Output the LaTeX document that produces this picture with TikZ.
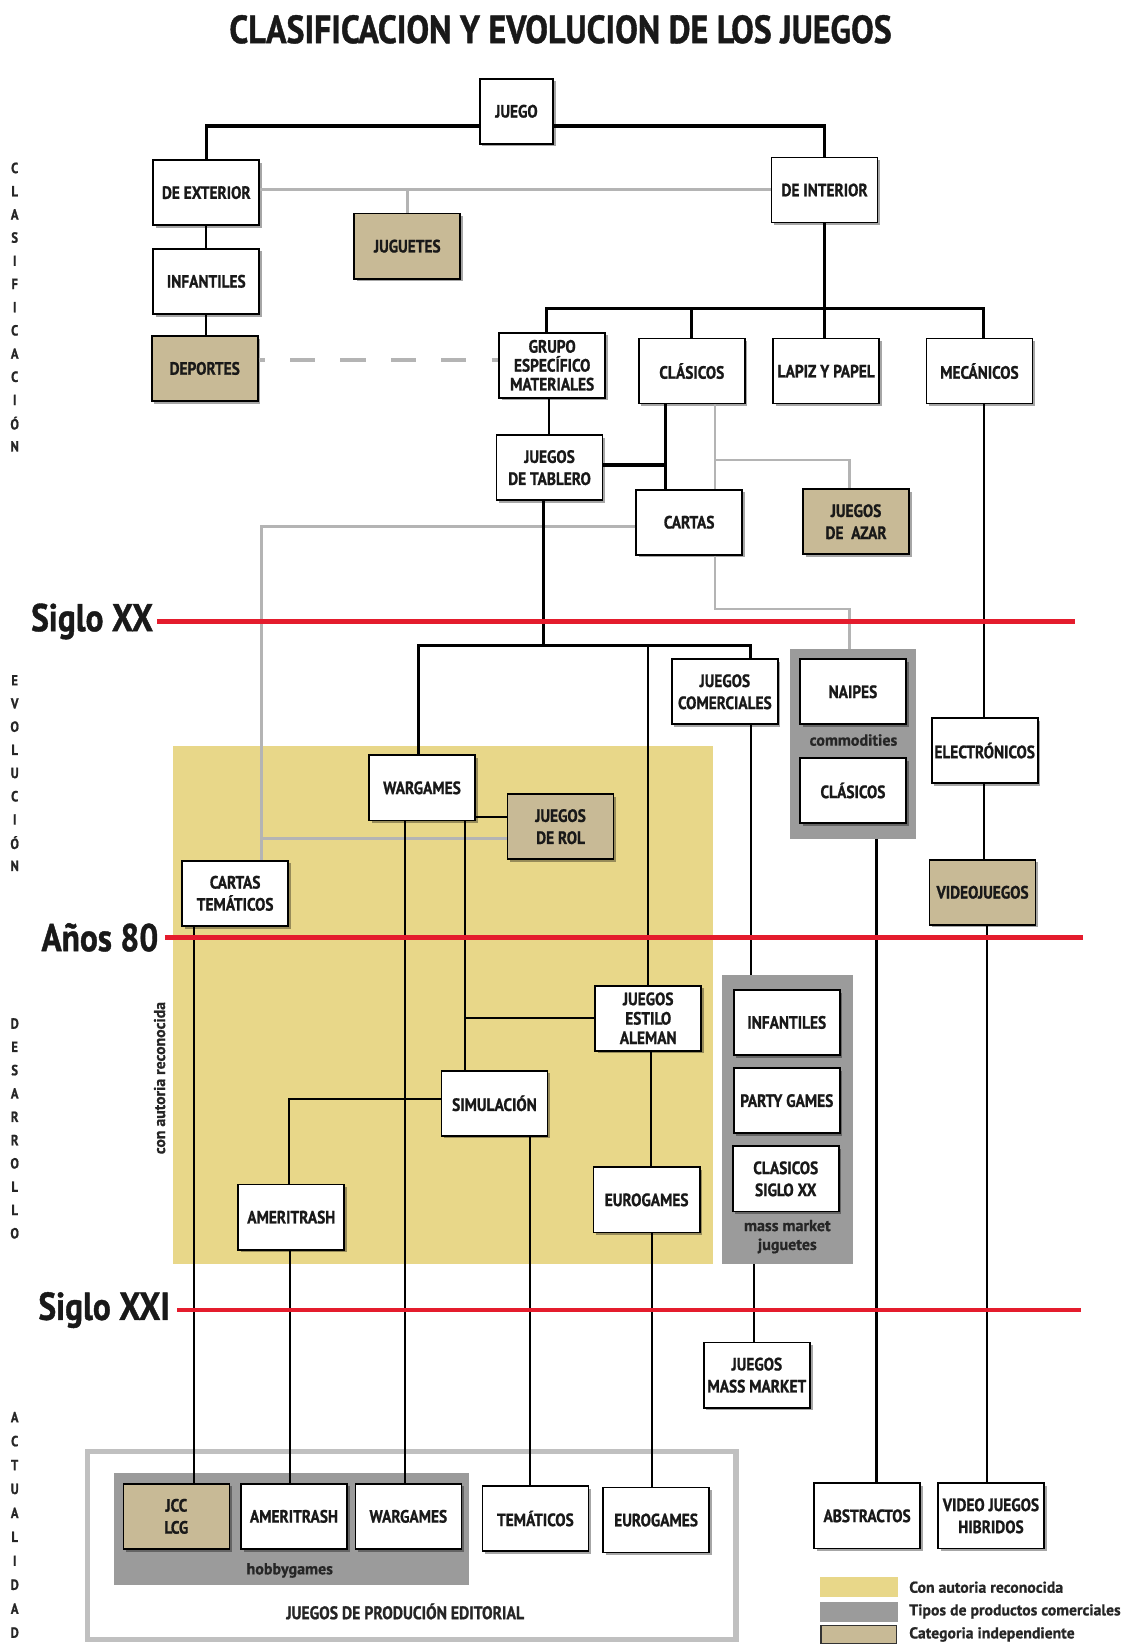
\documentclass[tikz,border=0pt]{standalone}
\usepackage{fontspec}
\setmainfont{PT Sans}[FakeStretch=0.86, BoldFeatures={FakeBold=1}]
\newfontfamily\anchafont{PT Sans}[BoldFeatures={FakeBold=0.8}]
\usetikzlibrary{shadows}

\definecolor{autoria}{RGB}{232,215,137}
\definecolor{comercial}{RGB}{155,155,155}
\definecolor{indep}{RGB}{200,186,150}
\definecolor{lineagris}{RGB}{180,180,180}
\definecolor{marco}{RGB}{192,192,192}
\definecolor{rojo}{RGB}{228,28,45}

\tikzset{
  caja/.style={draw=black, line width=1.6pt, fill=white, minimum width=101pt, minimum height=62pt,
    inner sep=0pt, align=center, text=black!90, font=\fontsize{17}{21}\selectfont\bfseries,
    drop shadow={shadow xshift=2.5pt, shadow yshift=-2.5pt, fill=black, opacity=0.35}},
  cajaind/.style={caja, fill=indep},
  bloque/.style={fill=comercial, inner sep=0pt},
  etiqueta/.style={inner sep=0pt, text=black!85, font=\anchafont\fontsize{15.3}{18}\selectfont\bfseries},
  lado/.style={inner sep=0pt, text=black!85, font=\fontsize{14}{14}\selectfont\bfseries},
  siglolbl/.style={inner sep=0pt, text=black!90, font=\fontsize{37}{37}\selectfont\bfseries},
  linea/.style={draw=black, line width=2pt},
  lineagruesa/.style={draw=black, line width=3pt},
  gris/.style={draw=lineagris, line width=2.5pt},
  siglo/.style={draw=rojo, line width=4pt},
  swatch/.style={minimum width=74pt, minimum height=19pt, inner sep=0pt}
}

\begin{document}
\begin{tikzpicture}[x=1pt,y=-1pt]
  \useasboundingbox (0,0) rectangle (1073,1568);

  % Titulo
  \node[inner sep=0pt, text=black!90, font=\fontsize{37.5}{37.5}\selectfont\bfseries] (titulo) at (534,28)
    {CLASIFICACION Y EVOLUCION DE LOS JUEGOS};

  % Fondos y grupos
  \node[fill=autoria, minimum width=514pt, minimum height=493pt, inner sep=0pt] (autoriazona) at (422,957.5) {};
  \node[bloque, minimum width=120pt, minimum height=181pt] (commod) at (813,708.5) {};
  \node[bloque, minimum width=125pt, minimum height=275pt] (mass) at (750.5,1066.5) {};
  \node[draw=marco, line width=5pt, fill=white, minimum width=618pt, minimum height=179pt] (editorial) at (392,1472.5) {};
  \node[bloque, minimum width=338pt, minimum height=107pt] (hobby) at (278,1456.5) {};

  \node[etiqueta] (lblcommod) at (813,705) {commodities};
  \node[etiqueta, align=center] (lblmass) at (750,1178) {mass market\\juguetes};
  \node[etiqueta] (lblhobby) at (276,1496) {hobbygames};
  \node[etiqueta, font=\fontsize{17.4}{18}\selectfont\bfseries] (lbleditorial) at (386,1535) {JUEGOS DE PRODUCIÓN EDITORIAL};

  % Clasificacion
  \node[caja, minimum width=70pt] (juego) at (492,106) {JUEGO};
  \node[caja] (exterior) at (196.5,183.5) {DE EXTERIOR};
  \node[caja] (interior) at (785.5,181) {DE INTERIOR};
  \node[cajaind] (juguetes) at (388,234.5) {JUGUETES};
  \node[caja] (infantiles1) at (196.5,268) {INFANTILES};
  \node[cajaind] (deportes) at (195,351) {DEPORTES};
  \node[caja, font=\fontsize{17}{18}\selectfont\bfseries] (grupo) at (526,348) {GRUPO\\ESPECÍFICO\\MATERIALES};
  \node[caja] (clasicos1) at (659,353.5) {CLÁSICOS};
  \node[caja] (lapiz) at (787,353.5) {LAPIZ Y PAPEL};
  \node[caja] (mecanicos) at (933,353.5) {MECÁNICOS};
  \node[caja] (tablero) at (523.5,445.5) {JUEGOS\\DE TABLERO};
  \node[caja] (cartas) at (656.5,497.5) {CARTAS};
  \node[cajaind] (azar) at (815.5,497) {JUEGOS\\DE \ AZAR};

  % Evolucion
  \node[caja] (comerciales) at (690.5,659) {JUEGOS\\COMERCIALES};
  \node[caja] (naipes) at (812.5,659) {NAIPES};
  \node[caja] (clasicos2) at (812.5,753) {CLÁSICOS};
  \node[caja] (electronicos) at (938,715) {ELECTRÓNICOS};
  \node[caja] (wargames1) at (402,750.5) {WARGAMES};
  \node[cajaind] (rol) at (534,787.5) {JUEGOS\\DE ROL};
  \node[caja] (cartastem) at (224,851) {CARTAS\\TEMÁTICOS};
  \node[cajaind] (videojuegos) at (936,850) {VIDEOJUEGOS};

  % Desarrollo
  \node[caja, font=\fontsize{17}{18.5}\selectfont\bfseries] (aleman) at (617.5,970) {JUEGOS\\ESTILO\\ALEMAN};
  \node[caja] (infantiles2) at (749.5,974) {INFANTILES};
  \node[caja] (party) at (749.5,1048.5) {PARTY GAMES};
  \node[caja] (clasicos3) at (748.5,1123) {CLASICOS\\SIGLO XX};
  \node[caja] (simulacion) at (471,1051) {SIMULACIÓN};
  \node[caja] (eurogames1) at (616,1143) {EUROGAMES};
  \node[caja] (ameritrash1) at (277.5,1159.5) {AMERITRASH};

  % Actualidad
  \node[caja] (jmm) at (721,1310) {JUEGOS\\MASS MARKET};
  \node[cajaind] (jcc) at (168,1444.5) {JCC\\LCG};
  \node[caja] (ameritrash2) at (280,1444.5) {AMERITRASH};
  \node[caja] (wargames2) at (389,1444.5) {WARGAMES};
  \node[caja] (tematicos) at (510,1446.5) {TEMÁTICOS};
  \node[caja] (eurogames2) at (625,1448) {EUROGAMES};
  \node[caja] (abstractos) at (826,1444) {ABSTRACTOS};
  \node[caja] (hibridos) at (944,1444) {VIDEO JUEGOS\\HIBRIDOS};

  % Conexiones clasificacion
  \draw[lineagruesa] ([yshift=-14pt]juego.west) -| (exterior.north);
  \draw[lineagruesa] ([yshift=-14pt]juego.east) -| (interior.north);
  \coordinate (ejeext) at ([yshift=3pt]exterior.east);
  \draw[gris] (ejeext) -- (ejeext -| interior.west);
  \draw[gris] (juguetes.north) -- (juguetes.north |- ejeext);
  \draw[linea] (exterior.south) -- (exterior.south |- infantiles1.north);
  \draw[linea] (infantiles1.south) -- (infantiles1.south |- deportes.north);
  \draw[gris, line width=3pt, dash pattern=on 24pt off 24pt, dash phase=18pt]
    ([yshift=8pt]deportes.east) -- ([yshift=8pt]deportes.east -| grupo.west);
  \draw[lineagruesa] (interior.south) -- (interior.south |- lapiz.north);
  \draw[lineagruesa] ([xshift=-5pt]grupo.north) -- ++(0,-22) coordinate (businter) -| ([xshift=4pt]mecanicos.north);
  \draw[lineagruesa] (clasicos1.north) -- (clasicos1.north |- businter);
  \draw[linea] ([xshift=-3pt]grupo.south) -- ([xshift=-3pt]grupo.south |- tablero.north);
  \coordinate (cla) at ([xshift=-25pt]clasicos1.south);
  \coordinate (clb) at ([xshift=22pt]clasicos1.south);
  \draw[lineagruesa] (cla) -- (cla |- cartas.north);
  \draw[lineagruesa] ([yshift=2.5pt]tablero.east) -- ([yshift=2.5pt]tablero.east -| cla);
  \draw[gris] (clb) -- (clb |- cartas.north);
  \draw[gris] (clb) ++(0,53) -| ([xshift=-6pt]azar.north);

  % Conexiones evolucion
  \coordinate (ctn) at ([xshift=25pt]cartastem.north);
  \draw[gris] ([yshift=-4pt]cartas.west) -| (ctn);
  \draw[gris] ([yshift=-11.5pt]rol.west) -- ([yshift=-11.5pt]rol.west -| ctn);
  \draw[gris] ([xshift=24.5pt]cartas.south) -- ++(0,51) -| ([xshift=-4pt]commod.north);
  \coordinate (bustab) at (518,615);
  \draw[lineagruesa] ([xshift=-5.5pt]tablero.south) -- (bustab);
  \draw[lineagruesa] ([xshift=-3pt]wargames1.north) |- (bustab) -| ([xshift=24.5pt]comerciales.north);
  \draw[linea] (aleman.north) -- (aleman.north |- bustab);
  \draw[linea] ([xshift=24.5pt]comerciales.south) -- ([xshift=24.5pt]comerciales.south |- mass.north);
  \draw[linea] ([xshift=4pt]mecanicos.south) -- ([xshift=4pt]mecanicos.south |- electronicos.north);
  \draw[linea] ([xshift=-1pt]electronicos.south) -- ([xshift=-1pt]electronicos.south |- videojuegos.north);
  \draw[linea] ([yshift=-28pt]wargames1.east) -- ([yshift=-28pt]wargames1.east -| rol.west);

  % Conexiones desarrollo y actualidad
  \coordinate (wga) at ([xshift=-16pt]wargames1.south);
  \coordinate (wgb) at ([xshift=41pt]wargames1.south);
  \draw[linea] (wga) -- (wga |- wargames2.north);
  \draw[linea] (wgb) -- (wgb |- simulacion.north);
  \draw[linea] (aleman.west) -- (aleman.west -| wgb);
  \draw[linea] ([yshift=4pt]simulacion.west) -| ([xshift=-2.5pt]ameritrash1.north);
  \draw[linea] ([xshift=34pt]simulacion.south) -- ([xshift=34pt]simulacion.south |- tematicos.north);
  \draw[linea] ([xshift=-1.5pt]ameritrash1.south) -- ([xshift=-1.5pt]ameritrash1.south |- ameritrash2.north);
  \draw[linea] ([xshift=-39pt]cartastem.south) -- ([xshift=-39pt]cartastem.south |- jcc.north);
  \draw[linea] ([xshift=2.5pt]aleman.south) -- ([xshift=2.5pt]aleman.south |- eurogames1.north);
  \draw[linea] ([xshift=5pt]eurogames1.south) -- ([xshift=5pt]eurogames1.south |- eurogames2.north);
  \draw[linea] ([xshift=-32.5pt]mass.south) -- ([xshift=-32.5pt]mass.south |- jmm.north);
  \draw[linea] ([xshift=22pt]commod.south) -- ([xshift=22pt]commod.south |- abstractos.north);
  \draw[linea] ([xshift=4pt]videojuegos.south) -- ([xshift=4pt]videojuegos.south |- hibridos.north);

  % Lineas de tiempo
  \node[siglolbl, anchor=east] (s20) at (146,592) {Siglo XX};
  \node[siglolbl, anchor=east] (s80) at (151,893) {Años 80};
  \node[siglolbl, anchor=east] (s21) at (162,1248) {Siglo XXI};
  \coordinate (fin20) at (1024,593);
  \coordinate (fin80) at (1032,894);
  \coordinate (fin21) at (1030,1249);
  \draw[siglo] ([xshift=4pt]s20.east) -- (s20.east -| fin20);
  \draw[siglo] ([xshift=6pt]s80.east) -- (s80.east -| fin80);
  \draw[siglo] ([xshift=7pt]s21.east) -- (s21.east -| fin21);

  % Etapas
  \foreach \l [count=\i] in {C,L,A,S,I,F,I,C,A,C,I,Ó,N}
    \node[lado] (clas\i) at (14,{160+22.1*(\i-1)}) {\l};
  \foreach \l [count=\i] in {E,V,O,L,U,C,I,Ó,N}
    \node[lado] (evol\i) at (14,{648+22.1*(\i-1)}) {\l};
  \foreach \l [count=\i] in {D,E,S,A,R,R,O,L,L,O}
    \node[lado] (desa\i) at (14,{975+22.2*(\i-1)}) {\l};
  \foreach \l [count=\i] in {A,C,T,U,A,L,I,D,A,D}
    \node[lado] (actu\i) at (14,{1350+22.8*(\i-1)}) {\l};
  \node[etiqueta, rotate=90, font=\anchafont\fontsize{15}{15}\selectfont\bfseries] (conautoria) at (152,1027) {con autoria reconocida};

  % Leyenda
  \node[swatch, fill=autoria] (ley1) at (818,1512) {};
  \node[swatch, fill=comercial] (ley2) at (818,1536) {};
  \node[swatch, fill=indep, draw=black!80, line width=1.5pt, minimum width=72pt, minimum height=17pt] (ley3) at (818,1557) {};
  \node[etiqueta, anchor=west, font=\anchafont\fontsize{15}{16}\selectfont\bfseries] (txt1) at (866,1512) {Con autoria reconocida};
  \node[etiqueta, anchor=west, font=\anchafont\fontsize{15}{16}\selectfont\bfseries] (txt2) at (866,1535) {Tipos de productos comerciales};
  \node[etiqueta, anchor=west, font=\anchafont\fontsize{15}{16}\selectfont\bfseries] (txt3) at (866,1557) {Categoria independiente};
\end{tikzpicture}
\end{document}
